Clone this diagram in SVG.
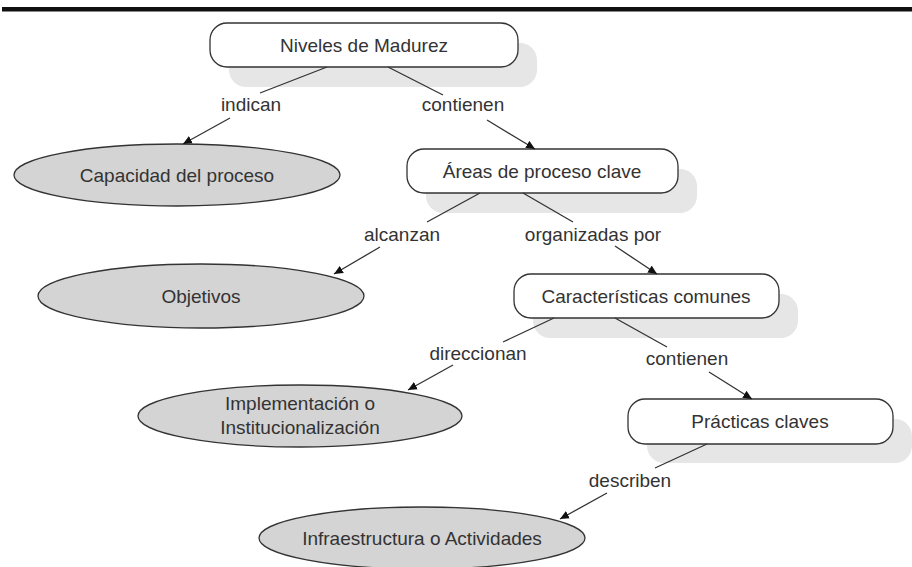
<svg xmlns="http://www.w3.org/2000/svg" width="912" height="567" viewBox="0 0 912 567">
<defs>
<style>
text{font-family:"Liberation Sans",Arial,sans-serif;font-size:19px;fill:#333;text-anchor:middle}
.box{fill:#fff;stroke:#333;stroke-width:1.3}
.shadow{fill:#e6e6e6}
.ell{fill:#d4d4d4;stroke:#333;stroke-width:1.3}
.con line{stroke:#333;stroke-width:1.3}
.arr{marker-end:url(#ah)}
</style>
<marker id="ah" viewBox="0 0 10 10" refX="10" refY="5" markerWidth="9" markerHeight="9" markerUnits="userSpaceOnUse" orient="auto">
<path d="M0,0.5 L10,5 L0,9.5 z" fill="#111"/>
</marker>
</defs>
<rect x="2" y="7" width="910" height="4.5" fill="#111"/>

<g id="niveles">
<rect class="shadow" x="229" y="43" width="308" height="44" rx="17"/>
<rect class="box" x="210" y="23" width="308" height="44" rx="17"/>
<text x="364" y="52">Niveles de Madurez</text>
</g>

<g id="capacidad">
<ellipse class="ell" cx="177" cy="175" rx="163" ry="31"/>
<text x="177" y="182">Capacidad del proceso</text>
</g>

<g id="areas">
<rect class="shadow" x="426" y="169" width="271" height="44" rx="17"/>
<rect class="box" x="407" y="149" width="271" height="44" rx="17"/>
<text x="542" y="178">Áreas de proceso clave</text>
</g>

<g id="objetivos">
<ellipse class="ell" cx="201" cy="296" rx="163" ry="32"/>
<text x="201" y="303">Objetivos</text>
</g>

<g id="caracteristicas">
<rect class="shadow" x="533" y="294" width="265" height="44" rx="17"/>
<rect class="box" x="514" y="274" width="265" height="44" rx="17"/>
<text x="646" y="303">Características comunes</text>
</g>

<g id="implementacion">
<ellipse class="ell" cx="300" cy="416" rx="162" ry="31"/>
<text x="300" y="410">Implementación o</text>
<text x="300" y="434">Institucionalización</text>
</g>

<g id="practicas">
<rect class="shadow" x="647" y="419" width="265" height="44" rx="17"/>
<rect class="box" x="628" y="399" width="265" height="45" rx="17"/>
<text x="760" y="428">Prácticas claves</text>
</g>

<g id="infraestructura">
<ellipse class="ell" cx="422" cy="538" rx="163" ry="31"/>
<text x="422" y="545">Infraestructura o Actividades</text>
</g>

<g id="connectors" class="con">
<line x1="327" y1="67" x2="260" y2="93"/>
<line class="arr" x1="230" y1="118" x2="183" y2="144"/>
<line x1="388" y1="67" x2="443" y2="95"/>
<line class="arr" x1="487" y1="120" x2="535" y2="149"/>
<line x1="480" y1="193" x2="427" y2="222"/>
<line class="arr" x1="380" y1="247" x2="334" y2="274"/>
<line x1="523" y1="193" x2="573" y2="222"/>
<line class="arr" x1="615" y1="246" x2="657" y2="274"/>
<line x1="554" y1="318" x2="503" y2="342"/>
<line class="arr" x1="453" y1="365" x2="408" y2="390"/>
<line x1="615" y1="318" x2="667" y2="347"/>
<line class="arr" x1="709" y1="372" x2="752" y2="399"/>
<line x1="707" y1="444" x2="655" y2="468"/>
<line class="arr" x1="607" y1="493" x2="560" y2="519"/>
</g>

<g id="labels">
<text x="251" y="111">indican</text>
<text x="463" y="111">contienen</text>
<text x="402" y="241">alcanzan</text>
<text x="593" y="241">organizadas por</text>
<text x="478" y="360">direccionan</text>
<text x="687" y="365">contienen</text>
<text x="630" y="487">describen</text>
</g>
</svg>
